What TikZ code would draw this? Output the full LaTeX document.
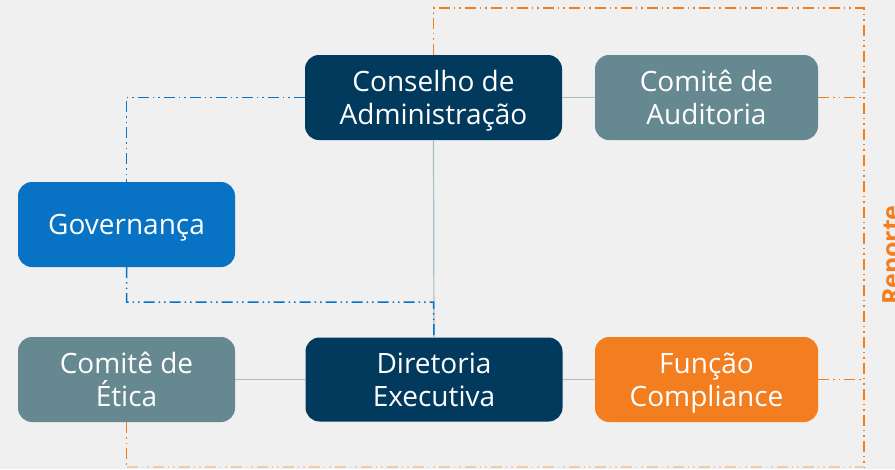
\documentclass[tikz,border=0pt]{standalone}
\usepackage{fontspec}
\setmainfont[Ligatures=NoCommon]{Open Sans}
\definecolor{bg}{HTML}{F0F0F0}
\definecolor{navy}{HTML}{023A5E}
\definecolor{slate}{HTML}{668891}
\definecolor{govblue}{HTML}{0872C4}
\definecolor{orng}{HTML}{F27E1F}
\definecolor{lorng}{HTML}{F6C9A2}
\definecolor{gline}{HTML}{A8BDC6}
\newcommand{\toph}{\vphantom{Êl}}
\newcommand{\both}{\vphantom{çp}}
\begin{document}
\begin{tikzpicture}[x=1pt,y=-1pt,
  boxtext/.style={text=white, align=center, inner sep=0pt, yshift=-0.5pt,
    font=\fontsize{28}{33}\selectfont},
  box/.style={rectangle, rounded corners=14pt, minimum height=85pt, inner sep=0pt},
  navybox/.style={box, fill=navy},
  slatebox/.style={box, fill=slate},
  bluebox/.style={box, fill=govblue},
  orangebox/.style={box, fill=orng},
  solidlink/.style={draw=gline, line width=1.2pt},
  dashpat/.style={line width=1.5pt, dash pattern=on 11pt off 4pt on 1.5pt off 4pt on 1.5pt off 4pt},
  bluelink/.style={dashpat, draw=govblue},
  orangelink/.style={dashpat, draw=orng},
  lorangelink/.style={dashpat, draw=lorng}]
\clip (0,0) rectangle (895,469);
\fill[bg] (0,0) rectangle (895,469);
\coordinate (topr) at (864,8);
\coordinate (botr) at (864,467);
\coordinate (bj) at (433.5,302);
\coordinate (eticabot) at (126.5,467);
\node[navybox, minimum width=257pt, label={[boxtext]center:{\toph Conselho de\\\both Administração}}] (cons) at (433.5,97.5) {};
\node[slatebox, minimum width=223pt, label={[boxtext]center:{\toph Comitê de\\\both Auditoria}}] (aud) at (706.5,97.5) {};
\node[bluebox, minimum width=217pt, label={[boxtext]center:{\toph Governança\both}}] (gov) at (126.5,224.5) {};
\node[slatebox, minimum width=217pt, label={[boxtext]center:{\toph Comitê de\\\both Ética}}] (etica) at (126.5,379.5) {};
\node[navybox, minimum width=257pt, minimum height=84pt, label={[boxtext]center:{\toph Diretoria\\\both Executiva}}] (dir) at (434,379.5) {};
\node[orangebox, minimum width=223pt, label={[boxtext]center:{\toph Função\\\both Compliance}}] (comp) at (706.5,379.5) {};
\draw[solidlink] (cons.east) -- (aud.west);
\draw[solidlink] (cons.south) -- (dir.north);
\draw[solidlink] (etica.east) -- (dir.west);
\draw[solidlink] (dir.east) -- (comp.west);
\draw[bluelink] (cons.west) -| (gov.north);
\draw[bluelink] (gov.south) |- (bj) -- (dir.north);
\draw[orangelink] (cons.north) |- (topr) -- (botr);
\draw[orangelink] (aud.east) -- (aud.east -| topr);
\draw[orangelink] (comp.east) -- (comp.east -| topr);
\draw[orangelink] (etica.south) -- (eticabot);
\draw[lorangelink] (eticabot) -- (botr);
\node[rotate=90, anchor=north, inner sep=0pt, text=orng,
  font=\fontsize{25}{30}\selectfont\bfseries] (rep) at (882,255) {Reporte};
\end{tikzpicture}
\end{document}
